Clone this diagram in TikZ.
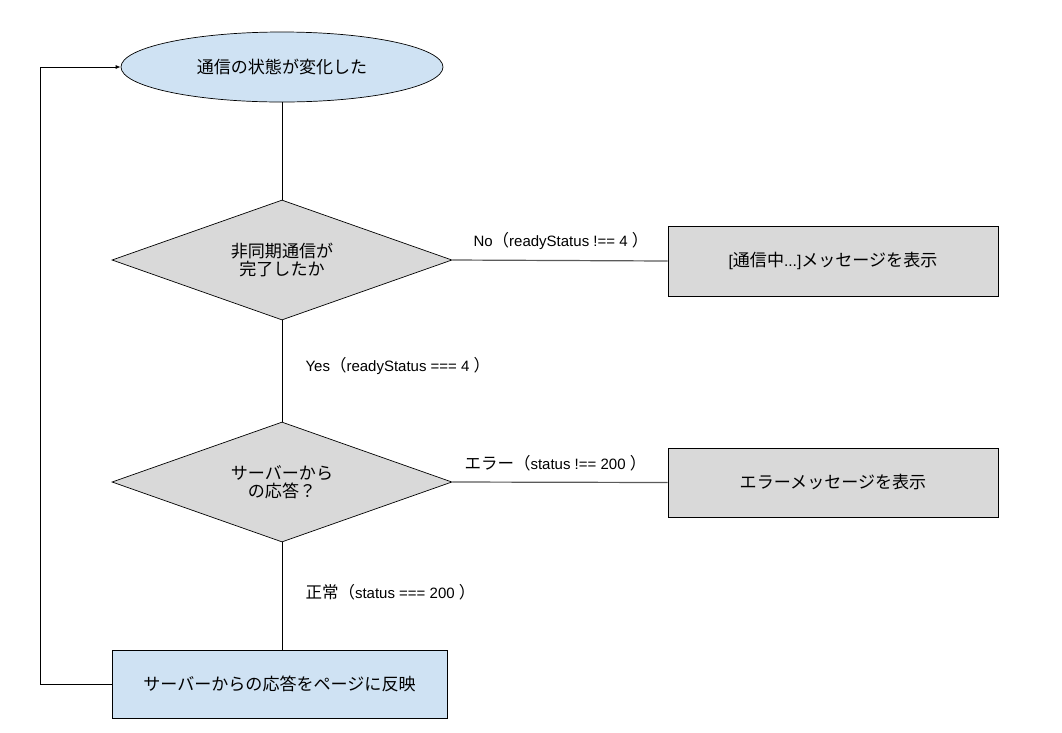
\documentclass[tikz,border=0pt]{standalone}
\usepackage{fontspec}
\setmainfont{Liberation Sans}
\newfontfamily\cjk[Scale=1.1]{Noto Sans CJK JP}
\newcommand{\J}[1]{{\cjk #1}}
\usetikzlibrary{shapes.geometric,arrows.meta}
\begin{document}
\begin{tikzpicture}[x=1pt,y=-1pt,
  every node/.style={font=\fontsize{15.5}{20}\selectfont},
  blue/.style={fill={rgb,255:red,207;green,226;blue,243},draw=black,line width=0.7pt},
  gray/.style={fill={rgb,255:red,217;green,217;blue,217},draw=black,line width=0.7pt},
  line/.style={draw=black,line width=0.8pt},
  gline/.style={draw={rgb,255:red,90;green,90;blue,90},line width=1.2pt},
  lab/.style={font=\fontsize{15}{18}\selectfont}]
\useasboundingbox (0,0) rectangle (1062,732);
\node[blue,ellipse,minimum width=322pt,minimum height=70pt,inner sep=0] (s) at (282,67) {\J{通信の状態が変化した}};
\node[gray,diamond,minimum width=340pt,minimum height=120pt,inner sep=0,aspect=2.83] (d1) at (282,260) {};
\node[align=center] at (282,260) {\J{非同期通信が}\\[-2pt]\J{完了したか}};
\node[gray,minimum width=330pt,minimum height=70pt,inner sep=0] (b1) at (833,261) {[\J{通信中}...]\J{メッセージを表示}};
\node[gray,diamond,minimum width=340pt,minimum height=120pt,inner sep=0,aspect=2.83] (d2) at (282,482) {};
\node[align=center] at (282,482) {\J{サーバーから}\\[-2pt]\J{の応答？}};
\node[gray,minimum width=330pt,minimum height=69pt,inner sep=0] (b2) at (833,482.5) {\J{エラーメッセージを表示}};
\node[blue,minimum width=335pt,minimum height=68pt,inner sep=0] (b3) at (279.5,684) {\J{サーバーからの応答をページに反映}};
\coordinate (c1) at (40,684);
\coordinate (c2) at (40,67);
\draw[line] (s) -- (d1.north);
\draw[line] (d1.south) -- (d2.north);
\draw[line] (d2.south) -- (282,650);
\draw[gline] (d1.east) -- (b1.west);
\draw[gline] (d2.east) -- (b2.west);
\draw[line,-{Latex[length=5pt,width=4pt]}] (b3.west) -- (c1) -- (c2) -- (s.west);
\node[lab,anchor=west] at (470,241) {No\J{（}readyStatus !== 4 \J{）}};
\node[lab,anchor=west] at (302,366) {Yes\J{（}readyStatus === 4 \J{）}};
\node[lab,anchor=west] at (461,463) {\J{エラー（}status !== 200 \J{）}};
\node[lab,anchor=west] at (302,592) {\J{正常（}status === 200 \J{）}};
\end{tikzpicture}
\end{document}
